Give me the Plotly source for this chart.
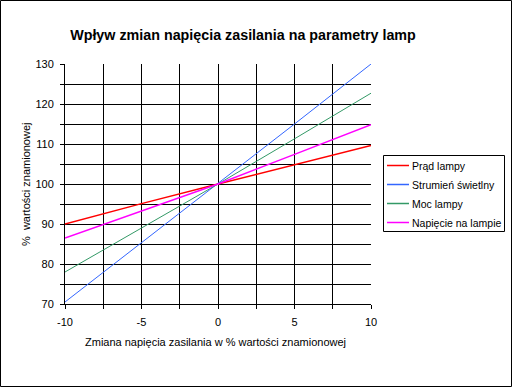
import plotly.graph_objects as go

x_vals = [-10, -5, 0, 5, 10]
prad = [90.0, 95.1, 100.0, 104.8, 109.6]
strumien = [70.5, 85.3, 100.0, 115.0, 130.0]
moc = [78.0, 89.0, 100.0, 111.3, 122.7]
napiecie = [86.5, 93.3, 100.0, 107.4, 114.8]

series_names = ["Prąd lampy", "Strumień świetlny", "Moc lampy", "Napięcie na lampie"]
series_vals = [prad, strumien, moc, napiecie]
colors = ["#ff0000", "#3366ff", "#339966", "#ff00ff"]
widths = [1.5, 1, 1, 1.5]

x_ticks = [-10, -7.5, -5, -2.5, 0, 2.5, 5, 7.5, 10]
x_ticktext = ["-10", "", "-5", "", "0", "", "5", "", "10"]
y_ticks = [70, 75, 80, 85, 90, 95, 100, 105, 110, 115, 120, 125, 130]
y_ticktext = ["70", "", "80", "", "90", "", "100", "", "110", "", "120", "", "130"]

FONT = "Arial, Liberation Sans, sans-serif"

fig = go.Figure()
for name, vals, c, w in zip(series_names, series_vals, colors, widths):
    fig.add_trace(go.Scatter(x=x_vals, y=vals, mode="lines", name=name,
                             line=dict(color=c, width=w), showlegend=False,
                             hoverinfo="skip"))

L, R, T, B = 65, 141, 64, 83
W, H = 512, 387
pw, ph = W - L - R, H - T - B

def px_x(p):
    return (p - L) / pw

def px_y(p):
    return (H - B - p) / ph

shapes = [
    dict(type="rect", xref="paper", yref="paper",
         x0=px_x(0.5), x1=px_x(511.5), y0=px_y(386.5), y1=px_y(0.5),
         line=dict(color="black", width=1), layer="above"),
    # legend box
    dict(type="rect", xref="paper", yref="paper",
         x0=px_x(383.5), x1=px_x(504.5), y0=px_y(231.5), y1=px_y(155.5),
         line=dict(color="black", width=1), fillcolor="white", layer="above"),
]
annotations = [
    dict(text="%  wartości znamionowej", textangle=-90, showarrow=False,
         xref="paper", yref="paper", x=px_x(26), y=px_y(184),
         xanchor="center", yanchor="middle", font=dict(size=11)),
    dict(text="Zmiana napięcia zasilania w % wartości znamionowej", showarrow=False,
         xref="paper", yref="paper", x=px_x(215), y=px_y(342),
         xanchor="center", yanchor="middle", font=dict(size=11)),
]
legend_rows = [165.5, 184.5, 203.5, 222.5]
for name, c, ypix in zip(series_names, colors, legend_rows):
    shapes.append(dict(type="line", xref="paper", yref="paper",
                       x0=px_x(387), x1=px_x(409), y0=px_y(ypix), y1=px_y(ypix),
                       line=dict(color=c, width=1.5), layer="above"))
    annotations.append(dict(text=name, showarrow=False, xref="paper", yref="paper",
                            x=px_x(410), y=px_y(ypix), xanchor="left", yanchor="middle",
                            font=dict(size=10.5)))

fig.update_layout(
    width=W, height=H,
    margin=dict(l=L, r=R, t=T, b=B, autoexpand=False),
    paper_bgcolor="white", plot_bgcolor="white",
    font=dict(family=FONT, size=11, color="black"),
    title=dict(text="<b>Wpływ zmian napięcia zasilania na parametry lamp</b>",
               x=243 / W, xanchor="center", y=1 - 35 / H, yanchor="middle",
               font=dict(size=14.3, family=FONT, color="black")),
    showlegend=False,
    hovermode=False,
    xaxis=dict(range=[-10, 10], tickvals=x_ticks, ticktext=x_ticktext,
               showgrid=True, gridcolor="black", gridwidth=1,
               showline=True, linecolor="black", linewidth=1,
               ticks="outside", ticklen=4, tickcolor="black",
               zeroline=False, ticklabelstandoff=4, fixedrange=True),
    yaxis=dict(range=[70, 130], tickvals=y_ticks, ticktext=y_ticktext,
               showgrid=True, gridcolor="black", gridwidth=1,
               showline=True, linecolor="black", linewidth=1,
               ticks="outside", ticklen=4, tickcolor="black",
               zeroline=False, ticklabelstandoff=4, fixedrange=True),
    annotations=annotations,
    shapes=shapes,
)

fig.write_html("out.html", config={"displayModeBar": False},
               post_script="document.body.style.margin='0';document.body.style.padding='0';")
